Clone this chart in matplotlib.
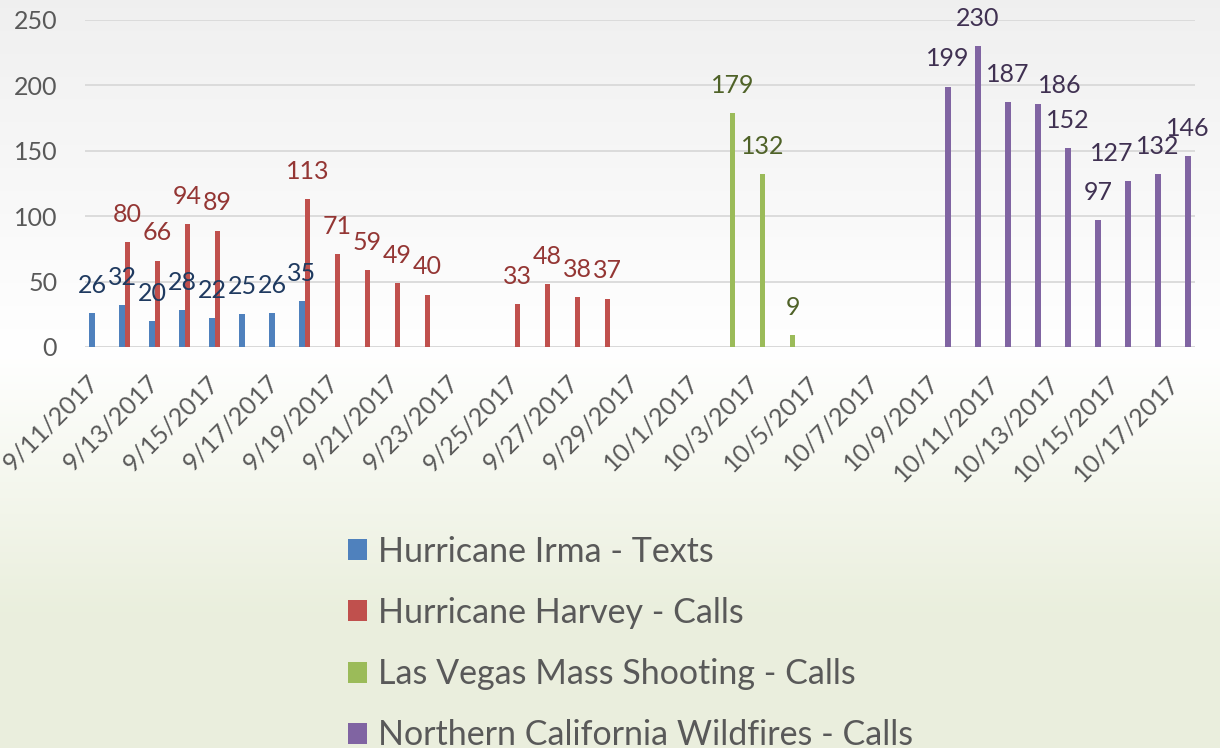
import matplotlib
matplotlib.use("Agg")
import matplotlib.pyplot as plt
import matplotlib.transforms as mtransforms
from matplotlib.patches import Patch
import numpy as np
import pandas as pd

""" categories: every day from 9/11/2017 to 10/17/2017 """
dates = pd.date_range("2017-09-11", "2017-10-17", freq="D")
date_labels = ["{}/{}/{}".format(d.month, d.day, d.year) for d in dates]

""" series """
irma_dates = ["9/11/2017", "9/12/2017", "9/13/2017", "9/14/2017",
              "9/15/2017", "9/16/2017", "9/17/2017", "9/18/2017"]
irma_values = [26, 32, 20, 28, 22, 25, 26, 35]

harvey_dates = ["9/12/2017", "9/13/2017", "9/14/2017", "9/15/2017", "9/18/2017",
                "9/19/2017", "9/20/2017", "9/21/2017", "9/22/2017",
                "9/25/2017", "9/26/2017", "9/27/2017", "9/28/2017"]
harvey_values = [80, 66, 94, 89, 113, 71, 59, 49, 40, 33, 48, 38, 37]

vegas_dates = ["10/2/2017", "10/3/2017", "10/4/2017"]
vegas_values = [179, 132, 9]

fire_dates = ["10/9/2017", "10/10/2017", "10/11/2017", "10/12/2017", "10/13/2017",
              "10/14/2017", "10/15/2017", "10/16/2017", "10/17/2017"]
fire_values = [199, 230, 187, 186, 152, 97, 127, 132, 146]

series_names = ["Hurricane Irma - Texts", "Hurricane Harvey - Calls",
                "Las Vegas Mass Shooting - Calls", "Northern California Wildfires - Calls"]

""" styling """
bar_colors = ["#4F81BD", "#C0504D", "#9BBB59", "#8064A2"]
label_colors = ["#1F3A60", "#943634", "#4F6228", "#403152"]
text_gray = "#595959"
grid_gray = "#D9D9D9"
FONT = "Lato"
FS = 18
LEG_FS = 24.5

plt.rcParams["font.family"] = [FONT, "DejaVu Sans"]

fig = plt.figure(figsize=(12.2, 7.48), dpi=100)

""" background gradient: light gray -> white -> light green """
bg = fig.add_axes([0, 0, 1, 1], zorder=-10)
top_c = np.array([0.94, 0.94, 0.94])
mid_c = np.array([1.0, 1.0, 1.0])
bot_c = np.array([0.918, 0.937, 0.867])
t = np.linspace(0, 1, 400)
split = 0.47
grad = np.zeros((400, 1, 3))
for i, v in enumerate(t):
    if v < split:
        f = v / split
        grad[i, 0] = top_c * (1 - f) + mid_c * f
    else:
        f = min((v - split) / 0.35, 1.0)
        grad[i, 0] = mid_c * (1 - f) + bot_c * f
bg.imshow(grad, aspect="auto", extent=[0, 1, 0, 1])
bg.set_axis_off()

""" main axes """
ax = fig.add_axes([85 / 1220, 1 - 347 / 748, 1110 / 1220, 327 / 748])
ax.set_facecolor("none")

idx = {lab: i for i, lab in enumerate(date_labels)}
all_dates = [irma_dates, harvey_dates, vegas_dates, fire_dates]
all_values = [irma_values, harvey_values, vegas_values, fire_values]

w = 0.178
offsets = [-1.5 * w, -0.5 * w, 0.5 * w, 1.5 * w]

# label nudges (points) where the original labels were shifted to avoid overlaps
nudges = {(3, 3): (16, -7), (3, 6): (-12, 0)}

for s in range(4):
    xs = np.array([idx[d] for d in all_dates[s]]) + offsets[s]
    ax.bar(xs, all_values[s], width=w, color=bar_colors[s], zorder=3)
    for k, (x, v) in enumerate(zip(xs, all_values[s])):
        dx, dy = nudges.get((s, k), (0, 0))
        ax.annotate(str(v), (x, v), xytext=(dx, 20 + dy), textcoords="offset points",
                    ha="center", va="center", fontsize=FS, color=label_colors[s], zorder=4)

ax.set_xlim(-0.5, len(date_labels) - 0.5)
ax.set_ylim(0, 250)
ax.set_yticks(np.arange(0, 251, 50))
ax.grid(axis="y", color=grid_gray, linewidth=1.3, zorder=0)
for sp in ax.spines.values():
    sp.set_visible(False)
ax.axhline(0, color=grid_gray, linewidth=2, zorder=2)

ax.tick_params(axis="y", length=0, pad=20, labelsize=FS, labelcolor=text_gray)
ax.tick_params(axis="x", length=0, pad=0, labelsize=FS, labelcolor=text_gray)

ticks = list(range(0, len(date_labels), 2))
ax.set_xticks(ticks)
ax.set_xticklabels([date_labels[i] for i in ticks], rotation=45, ha="right",
                   va="top", rotation_mode="anchor")
shift = mtransforms.ScaledTranslation(-13 / 100, -24 / 100, fig.dpi_scale_trans)
for lab in ax.get_xticklabels():
    lab.set_transform(lab.get_transform() + shift)

""" legend """
handles = [Patch(facecolor=c, edgecolor="none") for c in bar_colors]
fig.legend(handles, series_names, loc="upper left", bbox_to_anchor=(334 / 1220, 1 - 522 / 748),
           frameon=False, fontsize=LEG_FS, labelcolor=text_gray, handlelength=0.58,
           handleheight=0.58, handletextpad=0.3, labelspacing=0.86, borderaxespad=0)

fig.savefig("out.png", dpi=100)
